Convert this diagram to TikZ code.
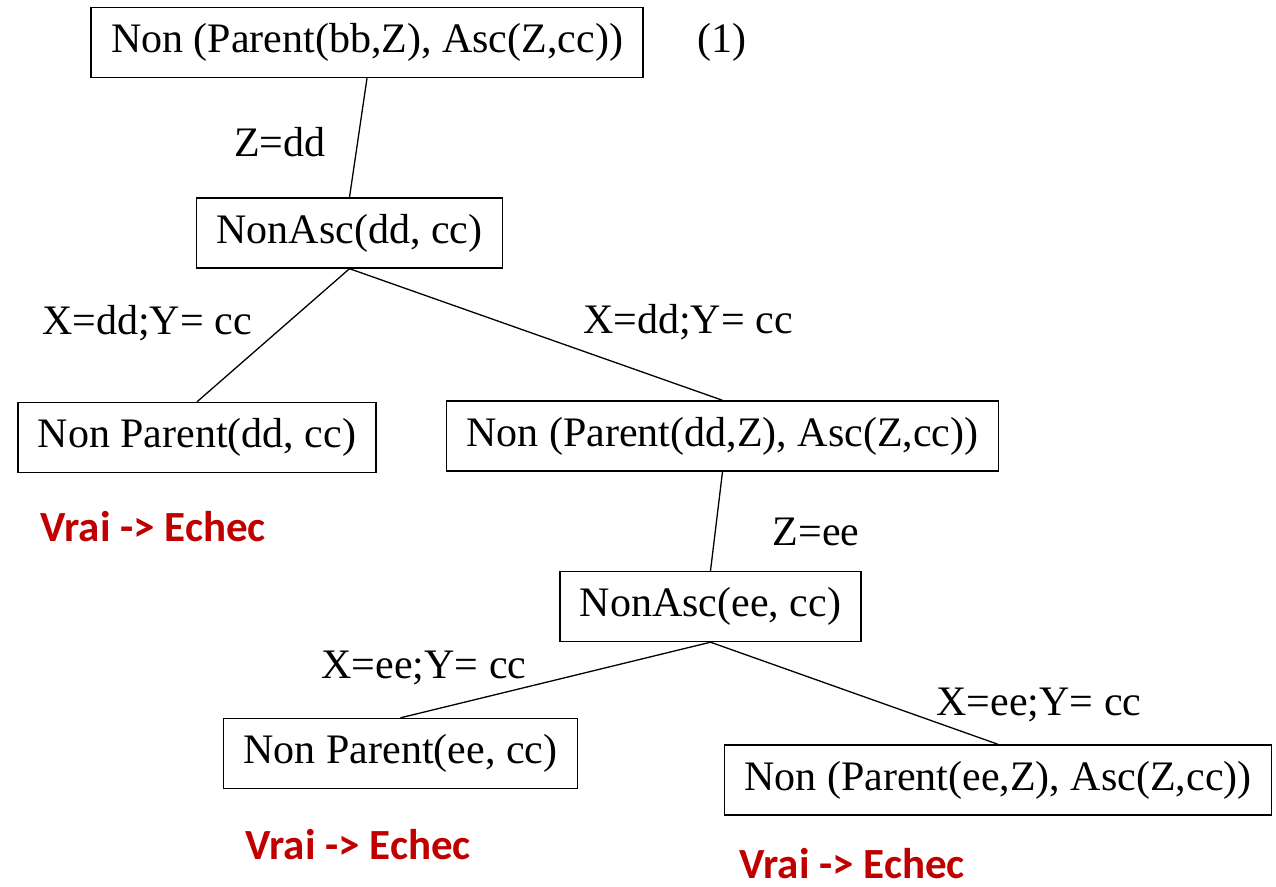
\documentclass[tikz,border=0pt]{standalone}
\usepackage{fontspec}
\setmainfont{Liberation Serif}
\newfontfamily\redfont{Carlito}
\definecolor{failred}{HTML}{C00000}
\begin{document}
\begin{tikzpicture}[x=1pt,y=-1pt,
  goal/.style={draw,line width=1.4pt,inner xsep=20pt,minimum height=70pt,
    font=\fontsize{42}{50}\selectfont},
  lbl/.style={font=\fontsize{42}{50}\selectfont,inner sep=0pt},
  fail/.style={font=\redfont\bfseries\fontsize{43}{50}\selectfont,text=failred,inner sep=0pt},
  edge/.style={line width=1.3pt}]
\useasboundingbox (0,0) rectangle (1276,886);
% goal nodes
\node[goal] (g1) at (367,42.5) {Non (Parent(bb,Z), Asc(Z,cc))};
\node[lbl] (n1) at (722,42) {(1)};
\node[goal] (g2) at (349.5,233) {NonAsc(dd, cc)};
\node[goal] (g3) at (197,437.5) {Non Parent(dd, cc)};
\node[goal] (g4) at (722.5,436) {Non (Parent(dd,Z), Asc(Z,cc))};
\node[goal] (g5) at (710.5,606.5) {NonAsc(ee, cc)};
\node[goal] (g6) at (400.5,753.5) {Non Parent(ee, cc)};
\node[goal] (g7) at (998,780) {Non (Parent(ee,Z), Asc(Z,cc))};
% branches
\draw[edge] (g1.south) -- (g2.north);
\draw[edge] (g2.south) -- (g3.north);
\draw[edge] (g2.south) -- (g4.north);
\draw[edge] (g4.south) -- (g5.north);
\draw[edge] (g5.south) -- (g6.north);
\draw[edge] (g5.south) -- (g7.north);
% substitutions
\node[lbl] (s1) at (280,142) {Z=dd};
\node[lbl] (s2) at (147,323) {X=dd;Y= cc};
\node[lbl] (s3) at (688,322) {X=dd;Y= cc};
\node[lbl] (s4) at (816,532) {Z=ee};
\node[lbl] (s5) at (424,668) {X=ee;Y= cc};
\node[lbl] (s6) at (1039,705) {X=ee;Y= cc};
% outcomes
\node[fail] (r1) at (153,527) {Vrai -> Echec};
\node[fail] (r2) at (358,845) {Vrai -> Echec};
\node[fail] (r3) at (852,864) {Vrai -> Echec};
\end{tikzpicture}
\end{document}
